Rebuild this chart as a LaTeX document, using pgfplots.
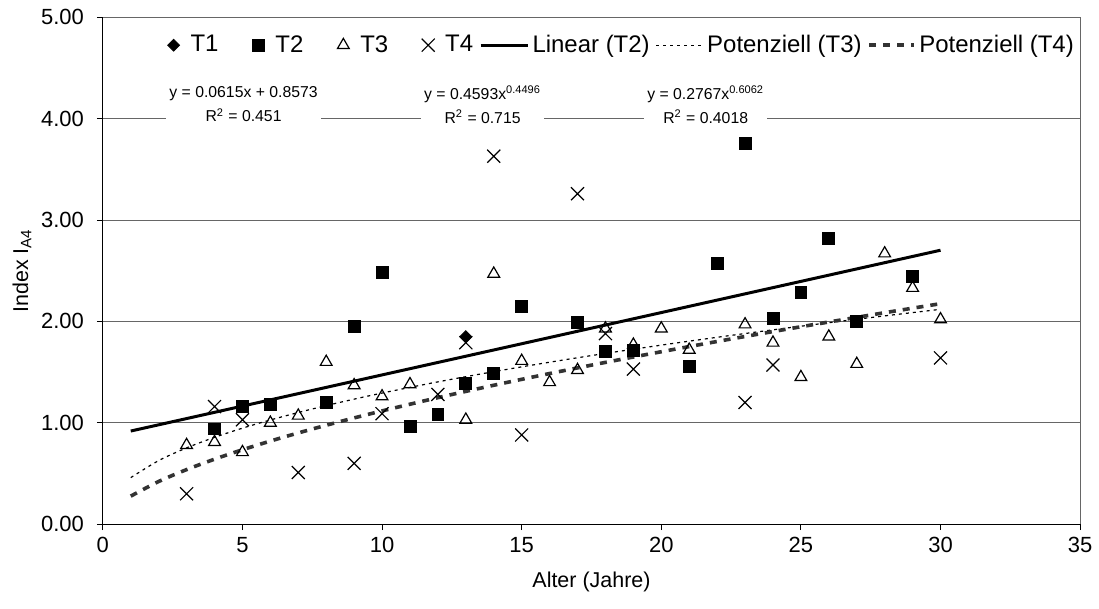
\documentclass[border=0pt]{standalone}
\usepackage{fontspec}
\setmainfont{Liberation Sans}
\usepackage{pgfplots}
\pgfplotsset{compat=1.18}
\pgfplotsset{
  lineleg/.style={legend image code/.code={\draw[##1] (0pt,0pt) -- (#1,0pt); \path[draw=none] (0pt,0pt) -- (#1+1.5pt,0pt);}},
  markleg/.style={legend image code/.code={\path[draw=none] (-17pt,0pt) -- (7.5pt,0pt); \draw[##1] plot coordinates {(0pt,0pt)};}},
}
\begin{document}
\begin{tikzpicture}
\begin{axis}[
  scale only axis, width=489.5pt, height=253.9pt,
  xmin=0, xmax=35, ymin=0, ymax=5,
  xtick={0,5,...,35}, ytick={0,1,...,5},
  axis lines=left, axis line style={-, black, line width=0.5pt},
  tick align=outside, major tick length=3pt, tick style={black, line width=0.5pt},
  ymajorgrids, grid style={black!60, line width=0.5pt},
  extra x ticks={35}, extra x tick labels={}, extra x tick style={grid=major, major tick length=0pt},
  /pgf/number format/assume math mode=true,
  yticklabel style={/pgf/number format/.cd, fixed, fixed zerofill, precision=2, /tikz/.cd, xshift=-3pt},
  ticklabel style={font=\fontsize{11}{13}\selectfont},
  label style={font=\fontsize{10.75}{12}\selectfont},
  xlabel={Alter (Jahre)}, ylabel={Index I\textsubscript{A4}},
  xlabel style={at={(axis description cs:0.5,-0.114)}, anchor=center},
  ylabel style={at={(axis description cs:-0.0827,0.5)}, anchor=center},
  legend style={at={(axis description cs:0.996,0.945)}, anchor=east, draw=none, fill=white,
    font=\fontsize{12}{14}\selectfont, inner sep=0pt, nodes={inner sep=1pt},
    /tikz/every even column/.append style={column sep=2pt}},
  legend columns=7,
]
\addplot[only marks, black, mark=square*, mark size=2.1pt, mark options={rotate=45}, markleg] coordinates {(13,1.85)};
\addlegendentry{T1}
\addplot[only marks, black, mark=square*, mark size=3pt, markleg] coordinates {
(4,0.94) (5,1.16) (6,1.18) (8,1.20) (9,1.95) (10,2.48) (11,0.96) (12,1.08) (13,1.39) (14,1.49)
(15,2.15) (17,1.99) (18,1.70) (19,1.71) (21,1.56) (22,2.57) (23,3.76) (24,2.03) (25,2.29) (26,2.82)
(27,2.00) (29,2.44)};
\addlegendentry{T2}
\addplot[only marks, black, mark=triangle, mark size=3.4pt, mark options={line width=0.6pt, fill=white}, markleg] coordinates {
(3,0.78) (4,0.81) (5,0.71) (6,1.00) (7,1.07) (8,1.60) (9,1.37) (10,1.26) (11,1.38) (13,1.03)
(14,2.47) (15,1.61) (16,1.40) (17,1.52) (18,1.93) (19,1.77) (20,1.93) (21,1.72) (23,1.97) (24,1.79)
(25,1.45) (26,1.85) (27,1.58) (28,2.67) (29,2.33) (30,2.02)};
\addlegendentry{T3}
\addplot[only marks, black, mark=x, mark size=4.6pt, mark options={line width=0.6pt}, markleg] coordinates {
(3,0.30) (4,1.16) (5,1.03) (7,0.51) (9,0.60) (10,1.09) (12,1.28) (13,1.79) (14,3.63) (15,0.88)
(17,3.26) (18,1.88) (19,1.53) (23,1.20) (24,1.57) (30,1.64)};
\addlegendentry{T4}
\addplot[black, line width=1.5pt, lineleg=23.5pt] coordinates {(1,0.9188) (30,2.7023)};
\addlegendentry{Linear (T2)}
\addplot[black, line width=0.6pt, dash pattern=on 1.5pt off 2pt, smooth, lineleg=23pt] coordinates {
(1,0.4593) (2,0.6273) (3,0.7527) (4,0.8566) (5,0.9470) (6,1.0279) (7,1.1016) (8,1.1698) (9,1.2334)
(10,1.2933) (12,1.4038) (14,1.5045) (16,1.5976) (18,1.6845) (20,1.7661) (22,1.8435) (24,1.9171)
(26,1.9873) (28,2.0546) (30,2.1194)};
\addlegendentry{Potenziell (T3)}
\addplot[black!80, line width=1.8pt, dash pattern=on 3.5pt off 3.5pt, smooth, lineleg=22.5pt] coordinates {
(1,0.2767) (2,0.4212) (3,0.5385) (4,0.6412) (5,0.7340) (6,0.8199) (7,0.9001) (8,0.9760) (9,1.0482)
(10,1.1174) (12,1.2480) (14,1.3703) (16,1.4859) (18,1.5959) (20,1.7010) (22,1.8022) (24,1.8999)
(26,1.9943) (28,2.0860) (30,2.1750)};
\addlegendentry{Potenziell (T4)}
\node[fill=white, inner sep=1.6pt, align=center, font=\fontsize{7.9}{12}\selectfont] at (axis cs:5.04,4.14)
  {y = 0.0615x + 0.8573\\R\textsuperscript{2} = 0.451};
\node[fill=white, inner sep=1.6pt, align=center, font=\fontsize{7.9}{12}\selectfont] at (axis cs:13.6,4.14)
  {y = 0.4593x\textsuperscript{0.4496}\\R\textsuperscript{2} = 0.715};
\node[fill=white, inner sep=1.6pt, align=center, font=\fontsize{7.9}{12}\selectfont] at (axis cs:21.59,4.14)
  {y = 0.2767x\textsuperscript{0.6062}\\R\textsuperscript{2} = 0.4018};
\end{axis}
\path ([shift={(-51.5pt,-42pt)}]current axis.south west) rectangle ([shift={(8.5pt,8.65pt)}]current axis.north east);
\end{tikzpicture}
\end{document}
